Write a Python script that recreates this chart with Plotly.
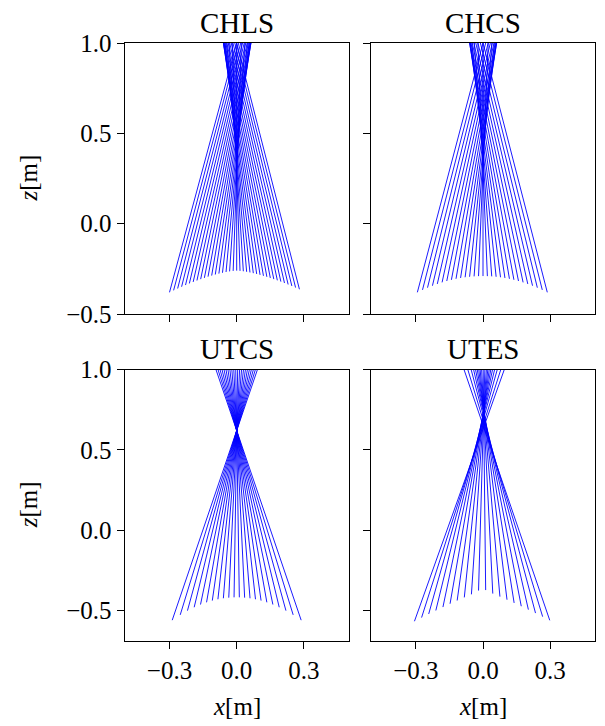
import plotly.graph_objects as go

# ---------------- data ----------------
Z_TOP = 1.0  # rays leave the plotted window through z = 1.0

# CHLS (top-left)
chls_xb = [-0.300, -0.2816, -0.2636, -0.2460, -0.2285, -0.2113, -0.1943, -0.1775, -0.1608, -0.1443,
           -0.1280, -0.1117, -0.0956, -0.0795, -0.0635, -0.0476, -0.0317, -0.0158, 0.0,
           0.0148, 0.0296, 0.0444, 0.0593, 0.0742, 0.0892, 0.1043, 0.1194, 0.1347, 0.1501,
           0.1656, 0.1814, 0.1972, 0.2133, 0.2296, 0.2461, 0.2628, 0.280]
chls_zb = [-0.380, -0.3691, -0.3589, -0.3491, -0.3398, -0.3309, -0.3226, -0.3146, -0.3071, -0.3000,
           -0.2934, -0.2873, -0.2816, -0.2764, -0.2717, -0.2676, -0.2641, -0.2615, -0.2600,
           -0.2612, -0.2635, -0.2665, -0.2700, -0.2740, -0.2785, -0.2834, -0.2887, -0.2944, -0.3004,
           -0.3069, -0.3137, -0.3209, -0.3285, -0.3365, -0.3449, -0.3537, -0.363]
chls_xt = [0.0, 0.0092, 0.0179, 0.0261, 0.0336, 0.0406, 0.0469, 0.0523, 0.0569, 0.0604,
           0.0628, 0.0637, 0.0631, 0.0605, 0.0555, 0.0478, 0.0366, 0.0210, 0.0,
           -0.0196, -0.0342, -0.0446, -0.0518, -0.0564, -0.0589, -0.0594, -0.0586, -0.0564, -0.0531,
           -0.0488, -0.0438, -0.0379, -0.0313, -0.0244, -0.0167, -0.0086, 0.0]

# CHCS (top-right)
chcs_xb = [-0.293, -0.2701, -0.2477, -0.2257, -0.2040, -0.1827, -0.1617, -0.1410, -0.1205, -0.1001,
           -0.0799, -0.0598, -0.0398, -0.0199, 0.0,
           0.0195, 0.0390, 0.0586, 0.0782, 0.0980, 0.1180, 0.1381, 0.1584, 0.1790, 0.1999,
           0.2211, 0.2426, 0.2646, 0.287]
chcs_zb = [-0.380, -0.3665, -0.3543, -0.3434, -0.3337, -0.3250, -0.3174, -0.3108, -0.3052, -0.3005,
           -0.2967, -0.2938, -0.2917, -0.2904, -0.2900,
           -0.2904, -0.2917, -0.2938, -0.2967, -0.3005, -0.3052, -0.3108, -0.3174, -0.3250, -0.3337,
           -0.3434, -0.3543, -0.3665, -0.380]
chcs_xt = [0.0, 0.0120, 0.0230, 0.0329, 0.0416, 0.0490, 0.0548, 0.0589, 0.0610, 0.0606,
           0.0574, 0.0507, 0.0397, 0.0233, 0.0,
           -0.0228, -0.0389, -0.0497, -0.0563, -0.0594, -0.0598, -0.0577, -0.0537, -0.0480, -0.0407,
           -0.0322, -0.0225, -0.0117, 0.0]

# UTCS (bottom-left)
utcs_xb = [-0.2878, -0.2521, -0.2198, -0.1898, -0.1615, -0.1346, -0.1089, -0.0839, -0.0595, -0.0355, -0.0118,
           0.0118, 0.0355, 0.0595, 0.0839, 0.1089, 0.1346, 0.1615, 0.1898, 0.2198, 0.2521, 0.2878]
utcs_zb = [-0.5604, -0.5273, -0.5011, -0.4800, -0.4629, -0.4492, -0.4384, -0.4301, -0.4241, -0.4202, -0.4182,
           -0.4182, -0.4202, -0.4241, -0.4301, -0.4384, -0.4492, -0.4629, -0.4800, -0.5011, -0.5273, -0.5604]
utcs_xt = [0.0927, 0.0835, 0.0745, 0.0656, 0.0567, 0.0479, 0.0391, 0.0304, 0.0217, 0.0130, 0.0043,
           -0.0043, -0.0130, -0.0217, -0.0304, -0.0391, -0.0479, -0.0567, -0.0656, -0.0745, -0.0835, -0.0927]

# UTES (bottom-right)
utes_xb = [-0.306, -0.2742, -0.2424, -0.2106, -0.1788, -0.1471, -0.1153, -0.0835, -0.0517, -0.0199,
           0.0119, 0.0437, 0.0755, 0.1072, 0.1390, 0.1708, 0.2026, 0.2344, 0.2662, 0.298]
utes_zb = [-0.567, -0.5441, -0.5218, -0.5000, -0.4788, -0.4582, -0.4380, -0.4186, -0.3996, -0.3760,
           -0.3730, -0.3949, -0.4137, -0.4330, -0.4530, -0.4735, -0.4946, -0.5162, -0.5384, -0.5613]
utes_xt = [0.0952, 0.0795, 0.0638, 0.0520, 0.0427, 0.0348, 0.0279, 0.0215, 0.0152, 0.0083,
           0.0009, -0.0062, -0.0128, -0.0190, -0.0257, -0.0333, -0.0420, -0.0531, -0.0678, -0.0848]

panel_titles = ["CHLS", "CHCS", "UTCS", "UTES"]
x_ticks = [-0.3, 0.0, 0.3]
x_ticktext = ["\u22120.3", "0.0", "0.3"]
y_ticks = [-0.5, 0.0, 0.5, 1.0]
y_ticktext = ["\u22120.5", "0.0", "0.5", "1.0"]

# ---------------- figure ----------------
W, H = 605, 726
FONT = "Liberation Serif"
RAY_COLOR = "#0000ff"

panels = [
    (chls_xb, chls_zb, chls_xt),
    (chcs_xb, chcs_zb, chcs_xt),
    (utcs_xb, utcs_zb, utcs_xt),
    (utes_xb, utes_zb, utes_xt),
]

fig = go.Figure()
for i, (xb, zb, xt) in enumerate(panels):
    xs, ys = [], []
    for a, b, c in zip(xb, zb, xt):
        xs += [a, c, None]
        ys += [b, Z_TOP, None]
    sfx = "" if i == 0 else str(i + 1)
    fig.add_trace(go.Scatter(x=xs, y=ys, mode="lines",
                             line=dict(color=RAY_COLOR, width=0.9),
                             xaxis="x" + sfx, yaxis="y" + sfx,
                             showlegend=False, hoverinfo="skip"))

def px_x(p):
    return p / W

def px_y(p):
    return 1 - p / H

col_dom = [[px_x(124.7), px_x(348.7)], [px_x(371.0), px_x(595.0)]]
row_dom = [[px_y(314.0), px_y(43.0)], [px_y(641.0), px_y(369.5)]]
y_ranges = [[-0.5, 1.0], [-0.69, 1.0]]

axis_common = dict(showline=True, linecolor="black", linewidth=1.4, mirror=True,
                   ticks="outside", ticklen=7, tickwidth=1.4, tickcolor="black",
                   showgrid=False, zeroline=False, automargin=False,
                   tickfont=dict(family=FONT, size=25, color="black"))

layout = dict(width=W, height=H, margin=dict(l=0, r=0, t=0, b=0, autoexpand=False),
              paper_bgcolor="white", plot_bgcolor="white", showlegend=False)

annotations = []
for i in range(4):
    r, c = divmod(i, 2)
    sfx = "" if i == 0 else str(i + 1)
    layout["xaxis" + sfx] = dict(axis_common, domain=col_dom[c], range=[-0.5, 0.5],
                                 anchor="y" + sfx, tickvals=x_ticks, ticktext=x_ticktext,
                                 showticklabels=(r == 1))
    layout["yaxis" + sfx] = dict(axis_common, domain=row_dom[r], range=y_ranges[r],
                                 anchor="x" + sfx, tickvals=y_ticks, ticktext=y_ticktext,
                                 showticklabels=(c == 0))
    annotations.append(dict(text=panel_titles[i], xref="paper", yref="paper",
                            x=sum(col_dom[c]) / 2, y=row_dom[r][1], xanchor="center",
                            yanchor="bottom", yshift=2, showarrow=False,
                            font=dict(family=FONT, size=29, color="black")))

for c in range(2):
    annotations.append(dict(text="<i>x</i>[m]", xref="paper", yref="paper",
                            x=sum(col_dom[c]) / 2, y=px_y(706), xanchor="center",
                            yanchor="middle", showarrow=False,
                            font=dict(family=FONT, size=25, color="black")))
for r in range(2):
    annotations.append(dict(text="<i>z</i>[m]", xref="paper", yref="paper",
                            x=px_x(28), y=sum(row_dom[r]) / 2, xanchor="center",
                            yanchor="middle", textangle=-90, showarrow=False,
                            font=dict(family=FONT, size=25, color="black")))

layout["annotations"] = annotations
fig.update_layout(**layout)
fig.write_html("out.html")
